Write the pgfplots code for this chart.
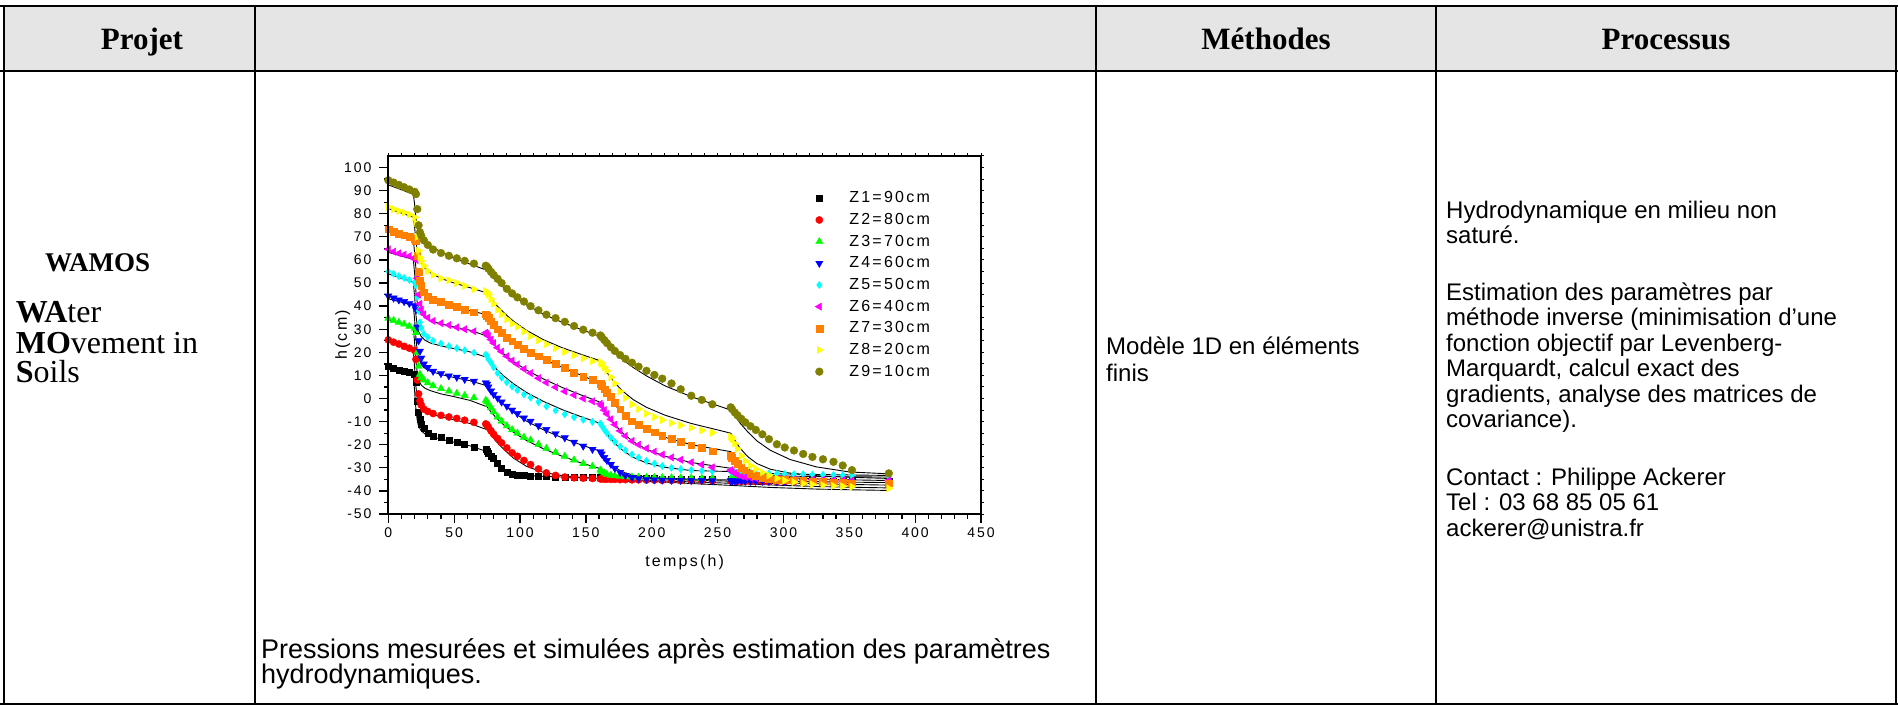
\documentclass[border=0pt]{standalone}
\usepackage{fontspec}
\setmainfont{Liberation Serif}
\newfontfamily\arial{Liberation Sans}
\newfontfamily\arialsp[LetterSpace=14]{Liberation Sans}
\usepackage{pgfplots}
\usepackage{pgfplotstable}
\pgfplotsset{compat=1.18}
\definecolor{hdr}{HTML}{E5E5E5}
\definecolor{zred}{HTML}{FF0000}
\definecolor{zgreen}{HTML}{00FF00}
\definecolor{zblue}{HTML}{0000FF}
\definecolor{zcyan}{HTML}{00FFFF}
\definecolor{zmag}{HTML}{FF00FF}
\definecolor{zorange}{HTML}{FF8000}
\definecolor{zyellow}{HTML}{FFFF00}
\definecolor{zolive}{HTML}{808000}

\pgfplotstableread{
t z1 z2 z3 z4 z5 z6 z7 z8 z9
0 14.0 25.4 34.7 44.4 55.0 64.6 73.3 83.0 94.5
4 13.2 24.4 33.8 43.5 54.0 63.6 72.3 82.0 93.5
8 12.4 23.6 33.0 42.7 53.0 62.9 71.5 81.2 92.5
12 11.8 22.6 32.2 42.0 52.2 62.3 70.7 80.5 91.5
16 11.2 21.8 31.3 41.2 51.3 61.7 70.0 79.6 90.5
20 10.5 20.8 30.4 40.2 50.2 61.0 69.2 78.5 89.5
21 7.0 17.0 28.5 38.5 49.0 60.0 68.5 76.0 88.5
22 -1.0 8.0 20.0 31.0 44.0 52.0 62.0 70.0 82.0
23 -6.0 2.0 14.0 25.0 38.0 45.0 55.0 64.0 75.0
24 -9.0 -1.0 10.5 20.5 33.0 41.0 51.0 61.0 72.0
25 -11.0 -2.8 9.0 17.5 30.5 38.5 49.0 59.5 70.5
27 -13.0 -4.6 8.0 15.0 28.0 36.5 46.0 57.5 68.5
30 -15.0 -5.6 6.8 13.5 26.5 35.0 44.0 55.2 66.5
34 -16.2 -6.5 5.5 11.8 25.0 33.6 42.8 53.5 64.5
40 -16.9 -7.3 4.3 10.8 23.8 32.6 41.8 52.0 63.0
46 -18.0 -8.0 3.2 9.8 22.7 31.8 40.6 51.2 61.8
52 -18.8 -8.6 2.2 9.2 21.8 30.8 39.7 50.0 60.7
58 -19.8 -9.4 1.3 8.3 20.9 30.0 38.5 48.8 59.6
65 -21.0 -10.3 0.3 7.5 19.8 29.1 37.4 47.3 58.4
74 -22.0 -11.0 -0.8 6.8 19.0 28.5 36.5 46.5 57.5
75 -22.8 -11.5 -1.4 6.2 18.5 28.0 36.0 46.0 57.0
76 -23.5 -12.4 -2.5 5.0 17.0 27.0 35.0 45.0 56.2
78 -24.8 -14.0 -4.0 3.3 15.5 25.5 33.5 43.0 54.8
80 -26.0 -15.5 -5.8 1.8 13.5 24.0 32.0 41.0 53.5
83 -28.2 -17.3 -8.0 0.2 11.0 22.0 30.0 38.4 51.8
86 -30.2 -19.2 -9.8 -1.5 9.0 20.3 28.4 36.5 50.0
90 -31.8 -21.4 -11.8 -3.3 7.0 18.3 26.5 34.3 47.5
94 -32.8 -23.5 -13.5 -5.0 5.2 16.4 24.8 32.5 45.5
98 -33.2 -25.0 -15.0 -6.5 3.6 14.8 23.3 31.0 43.8
103 -33.4 -26.8 -16.8 -8.4 1.8 12.8 21.6 29.0 42.0
108 -33.5 -28.6 -18.0 -9.8 0.4 11.0 20.0 27.0 40.0
114 -33.6 -30.5 -19.8 -11.8 -1.5 8.8 18.3 25.2 38.2
120 -33.8 -32.2 -21.6 -13.4 -3.4 6.9 16.8 23.5 36.3
127 -33.9 -33.3 -23.3 -15.2 -5.2 4.9 15.0 21.8 34.8
134 -34.0 -34.0 -25.0 -17.0 -6.8 3.1 13.2 20.2 33.2
141 -34.0 -34.3 -26.6 -18.9 -8.1 1.5 11.2 18.8 31.4
148 -34.1 -34.5 -28.2 -20.6 -9.2 0.0 9.6 17.4 29.8
155 -34.2 -34.6 -29.4 -22.0 -10.1 -1.2 8.2 16.2 28.5
161 -34.2 -34.8 -31.0 -23.0 -10.8 -2.3 6.5 15.8 27.3
162 -34.3 -34.8 -31.6 -24.0 -11.8 -3.2 5.6 15.0 26.6
164 -34.3 -34.9 -32.3 -25.5 -13.5 -5.0 4.0 13.5 25.3
166 -34.3 -34.9 -32.8 -26.8 -15.0 -6.7 2.5 12.0 24.0
169 -34.4 -35.0 -33.2 -28.5 -17.0 -9.0 0.7 9.2 22.2
172 -34.4 -35.0 -33.5 -30.2 -18.8 -11.3 -1.8 6.5 20.6
176 -34.5 -35.1 -33.7 -32.0 -20.8 -14.0 -4.6 3.0 18.8
180 -34.5 -35.1 -33.9 -33.3 -22.4 -16.2 -7.3 0.2 17.2
185 -34.6 -35.2 -34.0 -34.2 -24.2 -18.4 -9.8 -2.5 15.5
190 -34.6 -35.2 -34.1 -34.7 -25.6 -20.0 -11.5 -4.5 13.8
196 -34.7 -35.3 -34.2 -35.0 -27.0 -21.6 -13.2 -6.5 12.0
202 -34.7 -35.3 -34.2 -35.2 -28.2 -23.0 -14.6 -8.0 10.2
208 -34.8 -35.4 -34.3 -35.3 -29.2 -24.3 -16.0 -9.3 8.6
215 -34.8 -35.4 -34.3 -35.4 -30.0 -25.5 -17.5 -10.6 6.5
222 -34.9 -35.5 -34.4 -35.4 -30.6 -26.5 -18.7 -11.6 4.0
230 -34.9 -35.5 -34.4 -35.5 -31.0 -27.6 -20.2 -12.7 1.2
238 -35.0 -35.6 -34.5 -35.5 -31.3 -28.6 -21.4 -13.8 -0.6
246 -35.0 -35.6 -34.5 -35.6 -31.5 -29.8 -22.8 -14.8 -2.5
260 -35.1 -35.7 -34.6 -35.6 -31.7 -31.0 -24.9 -16.5 -3.8
261 -35.1 -35.7 -34.6 -35.6 -31.8 -31.6 -25.6 -17.5 -4.6
263 -35.1 -35.7 -34.6 -35.7 -31.9 -32.4 -27.0 -19.5 -6.0
265 -35.2 -35.8 -34.6 -35.7 -32.0 -33.0 -28.3 -21.8 -7.2
268 -35.2 -35.8 -34.7 -35.7 -32.1 -33.6 -29.8 -24.8 -8.8
271 -35.2 -35.8 -34.7 -35.7 -32.2 -34.0 -31.0 -27.0 -10.3
275 -35.3 -35.9 -34.7 -35.8 -32.3 -34.3 -32.4 -29.0 -12.0
279 -35.3 -35.9 -34.7 -35.8 -32.4 -34.5 -33.5 -30.5 -13.6
284 -35.3 -35.9 -34.8 -35.8 -32.5 -34.6 -34.3 -32.0 -15.5
289 -35.4 -36.0 -34.8 -35.8 -32.5 -34.7 -34.8 -33.3 -17.6
295 -35.4 -36.0 -34.8 -35.9 -32.6 -34.8 -35.1 -34.6 -19.8
301 -35.4 -36.0 -34.8 -35.9 -32.7 -34.9 -35.3 -35.5 -21.2
308 -35.5 -36.0 -34.9 -35.9 -32.8 -35.0 -35.4 -36.2 -22.5
315 -35.5 -36.1 -34.9 -35.9 -32.8 -35.0 -35.6 -36.8 -24.0
322 -35.5 -36.1 -34.9 -36.0 -32.9 -35.1 -35.8 -37.2 -25.3
330 -35.6 -36.1 -34.9 -36.0 -33.0 -35.2 -35.9 -37.5 -26.3
338 -35.6 -36.1 -35.0 -36.0 -33.1 -35.3 -36.2 -37.8 -27.4
345 -35.6 -36.2 -35.0 -36.0 -33.2 -35.4 -36.4 -38.0 -29.0
352 -35.7 -36.2 -35.0 -36.1 -33.3 -35.5 -36.7 -38.2 -31.0
380 -35.8 -36.3 -35.1 -36.1 -33.5 -35.5 -36.7 -38.9 -32.4
}\meastab

\pgfplotstableread{
t s1 s2 s3 s4 s5 s6 s7 s8 s9
0 13.2 24.6 34.2 43.2 54.0 63.3 72.5 82.3 92.5
19 10.2 20.8 30.7 40.3 50.3 60.2 68.6 78.5 88.5
20 3.0 13.0 24.0 34.0 44.0 54.0 63.0 74.0 84.0
21 -5.0 5.0 16.0 26.0 36.0 46.0 56.0 68.0 78.0
22 -9.5 0.0 10.8 20.5 31.5 41.5 51.5 64.0 74.5
23 -12.0 -2.6 8.0 17.5 29.0 39.0 49.0 61.5 72.5
25 -14.0 -4.6 5.8 14.8 26.8 36.8 46.5 58.8 70.0
28 -15.4 -5.8 4.4 13.0 25.2 35.0 44.5 56.3 67.8
32 -16.3 -6.7 3.4 11.8 24.0 33.8 43.0 54.4 66.0
40 -17.6 -7.9 2.0 10.4 22.8 32.3 41.2 52.0 63.5
50 -18.9 -9.2 0.8 9.1 21.6 31.0 39.6 50.0 60.8
62 -20.5 -10.8 -0.8 7.7 20.2 29.6 38.0 48.0 58.2
75 -23.0 -13.5 -3.6 5.5 17.8 27.0 36.3 45.7 55.5
78 -25.2 -15.8 -5.8 3.2 15.5 24.8 34.0 43.4 53.5
82 -27.8 -18.6 -8.4 0.5 12.8 22.3 31.2 40.5 51.0
88 -30.6 -22.2 -11.6 -2.8 9.6 19.2 27.8 37.0 47.8
95 -32.4 -25.8 -14.6 -6.0 6.4 16.0 24.5 33.5 44.5
105 -33.3 -29.4 -18.2 -9.8 2.6 12.3 20.8 29.5 40.5
118 -33.7 -32.0 -21.8 -13.6 -1.3 8.4 17.0 25.4 36.5
132 -34.0 -33.4 -25.0 -17.0 -4.8 4.8 13.5 22.0 33.0
146 -34.3 -34.1 -27.8 -20.0 -7.8 1.6 10.2 19.2 30.0
160 -34.6 -34.6 -30.2 -22.6 -10.6 -1.4 6.8 16.5 27.0
163 -34.7 -34.7 -31.5 -24.8 -13.0 -4.0 4.2 14.0 25.2
167 -34.8 -34.8 -32.6 -27.3 -16.0 -7.4 1.0 10.5 22.6
172 -35.0 -34.9 -33.4 -29.8 -19.4 -11.2 -2.8 6.8 19.8
178 -35.2 -35.0 -33.9 -31.8 -22.5 -15.0 -6.5 3.2 16.8
186 -35.5 -35.2 -34.3 -33.2 -25.5 -18.7 -10.2 -0.5 13.4
196 -35.8 -35.4 -34.6 -34.0 -27.9 -22.0 -13.5 -3.8 9.8
210 -36.2 -35.7 -34.9 -34.5 -29.8 -25.0 -16.8 -7.2 5.5
230 -36.8 -36.1 -35.3 -34.9 -31.2 -27.7 -20.0 -10.8 0.8
260 -37.6 -36.7 -35.8 -35.3 -31.6 -30.2 -23.0 -15.0 -5.0
263 -37.7 -36.8 -35.9 -35.3 -31.7 -31.0 -25.6 -18.0 -7.5
267 -37.8 -36.9 -36.0 -35.4 -31.9 -31.8 -28.2 -21.5 -10.6
273 -38.0 -37.0 -36.1 -35.5 -32.1 -32.5 -30.6 -25.2 -14.5
280 -38.2 -37.2 -36.2 -35.6 -32.3 -33.0 -32.2 -28.2 -18.4
290 -38.5 -37.4 -36.4 -35.7 -32.5 -33.3 -33.4 -30.6 -22.4
305 -38.8 -37.7 -36.6 -35.8 -32.7 -33.6 -34.3 -32.3 -26.4
325 -39.2 -38.1 -36.9 -36.0 -32.9 -33.8 -34.8 -33.4 -29.6
350 -39.5 -38.4 -37.2 -36.2 -33.1 -33.9 -35.2 -34.1 -31.8
380 -39.8 -38.7 -37.5 -36.4 -33.3 -34.0 -35.5 -34.6 -32.6
}\simtab

\begin{document}
\begin{tikzpicture}
\useasboundingbox (0pt,0pt) rectangle (1898pt,-706pt);
\begin{scope}[x=1pt,y=-1pt]
  \fill[hdr] (4,6) rectangle (1896,71);
\end{scope}

\begin{axis}[
  at={(388.3pt,-514pt)}, anchor=south west,
  scale only axis, width=592.7pt, height=358pt,
  xmin=0, xmax=450, ymin=-50, ymax=105,
  xtick={0,50,...,450}, ytick={-50,-40,...,100},
  minor x tick num=4, minor y tick num=1,
  tick align=outside, xtick pos=left, ytick pos=left,
  major tick length=9pt, minor tick length=4.5pt,
  every tick/.style={black, line width=1.3pt},
  axis line style={line width=2pt},
  /pgf/number format/assume math mode=true,
  tick label style={font=\arialsp\fontsize{14}{16}\selectfont},
  yticklabel style={inner sep=0pt, xshift=-7.6pt},
  xticklabel style={inner sep=0pt, yshift=-5pt},
  xlabel={temps(h)},
  xlabel style={font=\arialsp\fontsize{16}{19}\selectfont, at={(axis description cs:0.5,-0.1472)}, anchor=base, inner sep=0pt},
  ylabel={h(cm)},
  ylabel style={font=\arialsp\fontsize{16}{19}\selectfont, at={(axis description cs:-0.0698,0.5)}, anchor=base, inner sep=0pt},
  legend image code/.code={\path[draw=none,fill=none] (-5pt,0pt) -- (26pt,0pt); \draw[#1] plot coordinates {(0pt,0pt)};},
  legend cell align=left,
  legend style={at={(0.7188,0.900)}, anchor=north west, draw=none, fill=none, inner sep=0pt, outer sep=0pt,
    row sep=8.67pt, column sep=4pt, font=\arialsp\fontsize{16}{19}\selectfont,
    nodes={inner sep=0pt, text height=11pt, text depth=2pt}},
]
\addplot[only marks, mark=square*, mark size=3pt, color=black] table[x=t,y=z1]{\meastab};
\addlegendentry{Z1=90cm}
\addplot[only marks, mark=*, mark size=3.6pt, color=zred] table[x=t,y=z2]{\meastab};
\addlegendentry{Z2=80cm}
\addplot[only marks, mark=triangle*, mark size=4.2pt, color=zgreen] table[x=t,y=z3]{\meastab};
\addlegendentry{Z3=70cm}
\addplot[only marks, mark=triangle*, mark size=4.2pt, mark options={rotate=180}, color=zblue] table[x=t,y=z4]{\meastab};
\addlegendentry{Z4=60cm}
\addplot[only marks, mark=diamond*, mark size=3.6pt, color=zcyan] table[x=t,y=z5]{\meastab};
\addlegendentry{Z5=50cm}
\addplot[only marks, mark=triangle*, mark size=4.2pt, mark options={rotate=90}, color=zmag] table[x=t,y=z6]{\meastab};
\addlegendentry{Z6=40cm}
\addplot[only marks, mark=square*, mark size=3.4pt, color=zorange] table[x=t,y=z7]{\meastab};
\addlegendentry{Z7=30cm}
\addplot[only marks, mark=triangle*, mark size=4.2pt, mark options={rotate=-90}, color=zyellow] table[x=t,y=z8]{\meastab};
\addlegendentry{Z8=20cm}
\addplot[only marks, mark=*, mark size=3.9pt, color=zolive] table[x=t,y=z9]{\meastab};
\addlegendentry{Z9=10cm}
\addplot[black, line width=0.9pt, forget plot] table[x=t,y=s1]{\simtab};
\addplot[black, line width=0.9pt, forget plot] table[x=t,y=s2]{\simtab};
\addplot[black, line width=0.9pt, forget plot] table[x=t,y=s3]{\simtab};
\addplot[black, line width=0.9pt, forget plot] table[x=t,y=s4]{\simtab};
\addplot[black, line width=0.9pt, forget plot] table[x=t,y=s5]{\simtab};
\addplot[black, line width=0.9pt, forget plot] table[x=t,y=s6]{\simtab};
\addplot[black, line width=0.9pt, forget plot] table[x=t,y=s7]{\simtab};
\addplot[black, line width=0.9pt, forget plot] table[x=t,y=s8]{\simtab};
\addplot[black, line width=0.9pt, forget plot] table[x=t,y=s9]{\simtab};
\end{axis}

\begin{axis}[
  at={(388.3pt,-514pt)}, anchor=south west,
  scale only axis, width=592.7pt, height=358pt,
  xmin=0, xmax=450, ymin=-50, ymax=105,
  xtick={0,10,...,450}, ytick={-50,-45,...,105},
  xticklabels={}, yticklabels={},
  tick align=outside, xtick pos=right, ytick pos=right,
  major tick length=3pt,
  every tick/.style={black, line width=1pt},
  axis line style={line width=2pt},
]
\end{axis}

\begin{scope}[x=1pt,y=-1pt]
  \draw[line width=2.5pt] (0,6) -- (1898,6);
  \draw[line width=2.5pt] (0,71) -- (1898,71);
  \draw[line width=2pt] (0,704) -- (1898,704);
  \draw[line width=1.6pt] (4,6) -- (4,704);
  \draw[line width=1.6pt] (1896,6) -- (1896,704);
  \draw[line width=2pt] (255,6) -- (255,704);
  \draw[line width=2pt] (1096,6) -- (1096,704);
  \draw[line width=2pt] (1436,6) -- (1436,704);

  \begin{scope}[every node/.style={inner sep=0pt}]
  \node[anchor=base, font=\fontsize{31}{36}\selectfont\bfseries] at (142,50) {Projet};
  \node[anchor=base, font=\fontsize{31}{36}\selectfont\bfseries] at (1266,50) {Méthodes};
  \node[anchor=base, font=\fontsize{31}{36}\selectfont\bfseries] at (1666,50) {Processus};

  \node[anchor=base west, font=\fontsize{27}{30}\selectfont\bfseries] at (45,271.6) {WAMOS};
  \node[anchor=base west, font=\fontsize{32}{36}\selectfont] at (15.7,322) {\textbf{WA}ter};
  \node[anchor=base west, font=\fontsize{32}{36}\selectfont] at (15.7,353) {\textbf{MO}vement in};
  \node[anchor=base west, font=\fontsize{32}{36}\selectfont] at (15.7,382) {\textbf{S}oils};

  \node[anchor=base west, font=\arial\fontsize{24}{28}\selectfont] at (1106,354.6) {Modèle 1D en éléments};
  \node[anchor=base west, font=\arial\fontsize{24}{28}\selectfont] at (1106,381) {finis};

  \node[anchor=base west, font=\arial\fontsize{24}{28}\selectfont] at (1446,218) {Hydrodynamique en milieu non};
  \node[anchor=base west, font=\arial\fontsize{24}{28}\selectfont] at (1446,243.4) {saturé.};
  \node[anchor=base west, font=\arial\fontsize{24}{28}\selectfont] at (1446,300.3) {Estimation des paramètres par};
  \node[anchor=base west, font=\arial\fontsize{24}{28}\selectfont] at (1446,325.7) {méthode inverse (minimisation d’une};
  \node[anchor=base west, font=\arial\fontsize{24}{28}\selectfont] at (1446,351.2) {fonction objectif par Levenberg-};
  \node[anchor=base west, font=\arial\fontsize{24}{28}\selectfont] at (1446,376.6) {Marquardt, calcul exact des};
  \node[anchor=base west, font=\arial\fontsize{24}{28}\selectfont] at (1446,402) {gradients, analyse des matrices de};
  \node[anchor=base west, font=\arial\fontsize{24}{28}\selectfont] at (1446,427.4) {covariance).};
  \node[anchor=base west, font=\arial\fontsize{24}{28}\selectfont] at (1446,485.5) {Contact : Philippe Ackerer};
  \node[anchor=base west, font=\arial\fontsize{24}{28}\selectfont] at (1446,510.9) {Tel : 03 68 85 05 61};
  \node[anchor=base west, font=\arial\fontsize{24}{28}\selectfont] at (1446,536.3) {ackerer@unistra.fr};

  \node[anchor=base west, font=\arial\fontsize{27}{30}\selectfont] at (261,658) {Pressions mesurées et simulées après estimation des paramètres};
  \node[anchor=base west, font=\arial\fontsize{27}{30}\selectfont] at (261,683.5) {hydrodynamiques.};
  \end{scope}
\end{scope}
\end{tikzpicture}
\end{document}
